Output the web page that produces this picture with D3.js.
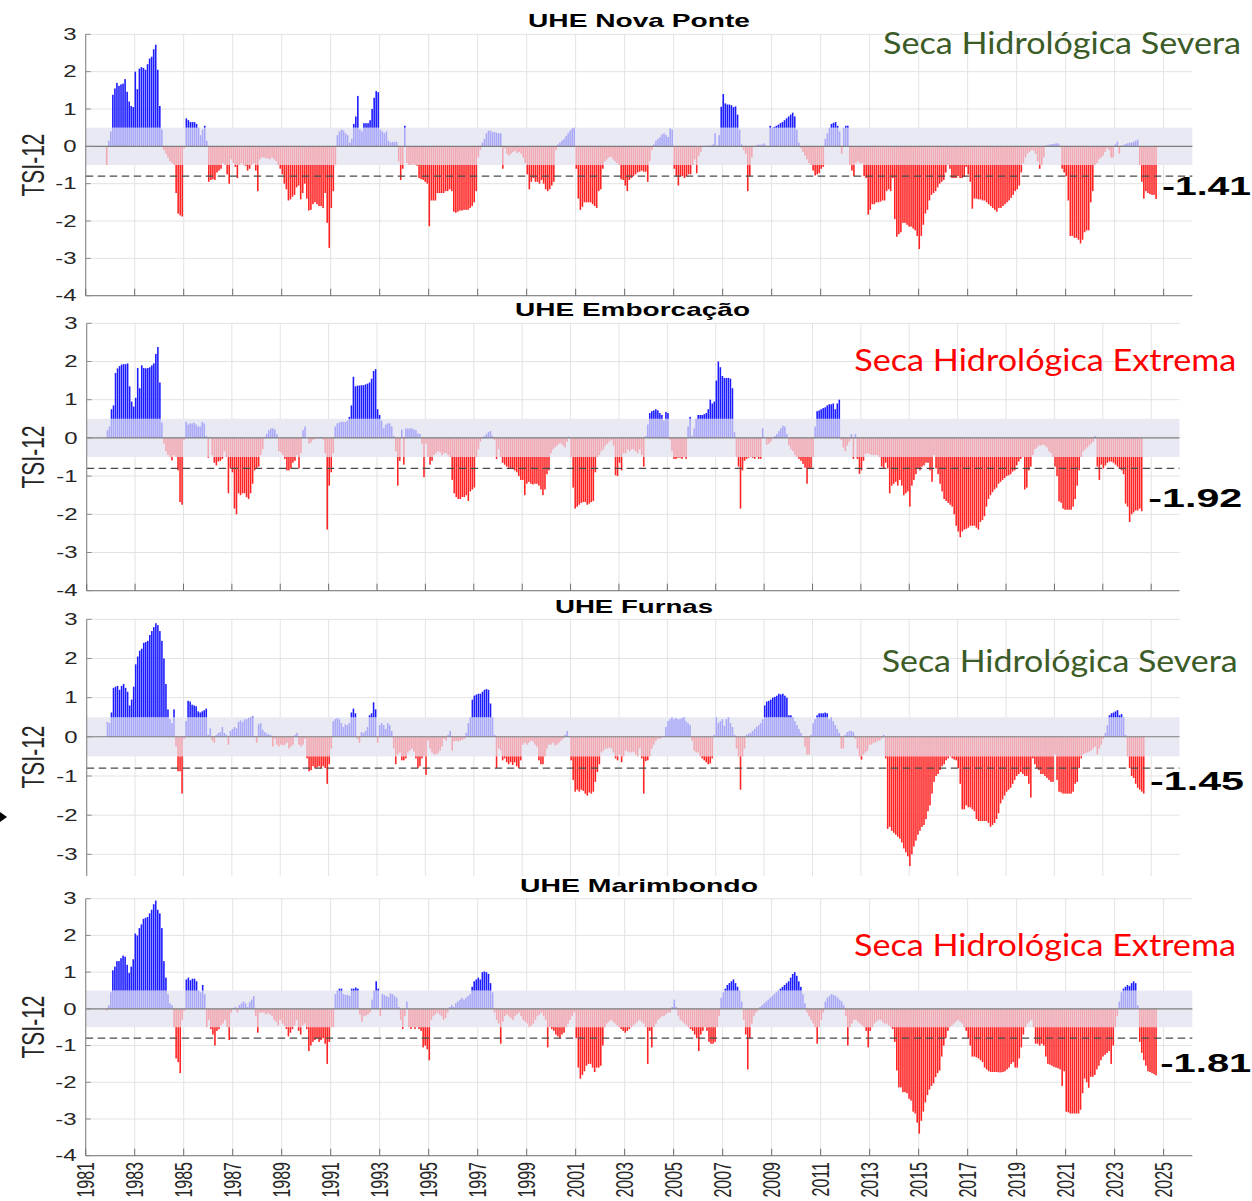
<!DOCTYPE html>
<html><head><meta charset="utf-8">
<script src="https://cdn.jsdelivr.net/npm/d3@7"></script>
<style>body{margin:0;background:#fff}svg{display:block}</style>
</head><body>
<svg id="chart" width="1252" height="1201"></svg>
<script>
// ---------------- DATA ----------------
// Monthly TSI-12 values, first value = November 1981
const firstYear = 1981, firstMonth = 11;
const novaPonte = [
-0.5,0.15,0.4,1.38,1.55,1.7,1.62,1.66,1.68,1.8,
1.46,1.2,1.08,1.05,2.0,1.53,2.08,2.12,2.1,2.05,
2.2,2.35,2.4,2.6,2.72,2.05,1.08,0.45,-0.1,-0.2,
-0.3,-0.4,-0.45,-0.5,-1.25,-1.8,-1.85,-1.88,-0.05,0.75,
0.7,0.65,0.65,0.65,0.6,0.5,0.3,0.45,0.55,0.15,
-0.95,-0.9,-0.88,-0.9,-0.7,-0.65,-0.6,-0.45,-0.5,-0.75,
-1.0,-0.35,-0.45,-0.55,-0.85,-0.5,-0.45,-0.5,-0.52,-0.65,
-0.6,-0.5,-0.45,-0.65,-1.2,-0.35,-0.3,-0.3,-0.32,-0.32,
-0.35,-0.3,-0.35,-0.4,-0.5,-0.6,-0.75,-1.0,-1.15,-1.45,
-1.42,-1.35,-1.3,-1.1,-1.05,-1.42,-1.25,-1.0,-1.4,-1.72,
-1.7,-1.55,-1.5,-1.55,-1.6,-1.6,-1.65,-1.25,-2.05,-2.72,
-1.65,-1.2,-0.5,0.3,0.4,0.45,0.42,0.35,0.3,0.1,
0.2,0.6,0.8,1.35,0.45,0.4,0.62,0.62,0.62,0.7,
1.0,1.3,1.48,1.45,0.45,0.4,0.35,0.4,0.15,0.1,
0.12,0.12,0.12,-0.4,-0.9,-0.6,0.55,-0.45,-0.5,-0.5,
-0.48,-0.5,-0.52,-0.85,-0.88,-0.9,-0.95,-1.0,-2.14,-1.45,
-1.45,-1.45,-1.25,-1.25,-1.25,-1.25,-1.2,-1.2,-1.15,-1.2,
-1.75,-1.78,-1.75,-1.72,-1.72,-1.7,-1.7,-1.7,-1.65,-1.6,
-1.5,-1.2,-0.3,-0.1,0.1,0.2,0.35,0.42,0.42,0.38,
0.38,0.36,0.35,0.35,-0.6,-0.05,-0.2,-0.25,-0.2,-0.15,
-0.12,-0.18,-0.15,-0.2,-0.3,-0.45,-0.75,-1.15,-0.95,-0.85,
-0.95,-0.95,-1.0,-0.9,-1.0,-1.15,-1.2,-1.15,-1.05,-0.95,
-0.1,0.05,0.1,0.15,0.2,0.28,0.35,0.42,0.48,0.5,
-0.6,-1.4,-1.7,-1.62,-1.5,-1.5,-1.5,-1.5,-1.55,-1.6,
-1.65,-1.2,-1.15,-0.6,-0.4,-0.35,-0.3,-0.28,-0.35,-0.4,
-0.45,-0.5,-0.88,-0.9,-1.05,-1.2,-0.9,-0.85,-0.8,-0.75,
-0.7,-0.68,-0.65,-0.68,-0.68,-0.95,-0.4,-0.1,0.05,0.15,
0.2,0.25,0.32,0.35,0.3,0.25,0.48,0.45,-0.6,-0.8,
-1.05,-0.8,-0.8,-0.85,-0.8,-0.75,-0.75,-0.5,-0.35,-0.72,
-0.25,-0.15,-0.02,0.01,0.01,0.02,0.02,0.05,0.35,0.02,
0.3,1.06,1.4,1.15,1.12,1.12,1.1,1.05,1.07,0.85,
0.45,0.05,-0.1,-0.2,-1.2,-0.8,-0.3,-0.02,0.02,0.05,
0.04,0.05,0.08,0.02,-0.02,0.55,0.5,0.52,0.55,0.58,
0.62,0.65,0.7,0.75,0.8,0.85,0.9,0.8,0.45,0.1,
-0.05,-0.15,-0.25,-0.35,-0.45,-0.5,-0.65,-0.78,-0.75,-0.72,
-0.6,-0.55,0.2,0.35,0.5,0.6,0.63,0.65,0.55,0.4,
-0.2,0.5,0.55,0.55,-0.5,-0.65,-0.8,-0.45,-0.4,-0.45,
-0.45,-0.8,-0.85,-1.83,-1.7,-1.55,-1.55,-1.5,-1.5,-1.48,
-1.45,-1.45,-1.2,-1.15,-1.2,-0.85,-1.95,-2.42,-2.35,-2.3,
-2.05,-2.05,-2.1,-2.15,-2.15,-2.2,-2.25,-2.4,-2.75,-2.4,
-2.1,-1.8,-1.7,-1.45,-1.3,-1.25,-1.2,-1.1,-1.0,-0.95,
-0.9,-0.7,-0.5,-0.6,-0.85,-0.85,-0.85,-0.8,-0.85,-0.85,
-0.82,-0.55,-0.75,-0.95,-1.67,-1.4,-1.4,-1.42,-1.42,-1.45,
-1.45,-1.5,-1.55,-1.6,-1.65,-1.7,-1.75,-1.65,-1.65,-1.6,
-1.55,-1.5,-1.45,-1.38,-1.3,-1.2,-1.15,-1.05,-0.7,-0.45,
-0.3,-0.2,-0.15,-0.1,-0.12,-0.2,-0.4,-0.6,-0.5,-0.3,
0.02,0.03,0.05,0.06,0.06,0.08,0.08,0.02,-0.6,-0.7,
-0.8,-1.45,-2.4,-2.4,-2.45,-2.45,-2.5,-2.6,-2.5,-2.3,
-2.25,-2.25,-1.5,-1.2,-0.5,-0.45,-0.35,-0.3,-0.25,-0.15,
-0.05,-0.1,-0.3,-0.3,0.05,0.12,-0.2,0.02,0.03,0.06,
0.08,0.1,0.1,0.12,0.15,0.18,-0.5,-0.95,-1.4,-1.2,
-1.25,-1.28,-1.3,-1.3,-1.41];
const emborcacao = [
0.2,0.3,0.75,0.85,1.7,1.82,1.88,1.92,1.93,1.93,
1.95,1.35,0.95,0.82,1.05,1.83,1.3,1.9,1.83,1.82,
1.83,1.85,1.9,1.95,2.2,2.38,1.45,0.4,-0.15,-0.35,
-0.45,-0.5,-0.59,-0.45,-0.5,-0.85,-1.68,-1.75,-0.05,0.42,
0.35,0.38,0.38,0.4,0.35,0.3,0.3,0.42,0.38,0.05,
-0.52,0.02,-0.45,-0.65,-0.72,-0.62,-0.6,-0.55,-0.35,-0.5,
-1.45,-0.8,-0.9,-1.85,-2.0,-1.45,-1.5,-1.45,-1.45,-1.55,
-1.6,-1.45,-1.2,-0.85,-0.8,-0.75,-0.45,-0.3,0.02,0.1,
0.2,0.25,0.25,0.22,0.1,-0.35,-0.38,-0.45,-0.55,-0.85,
-0.85,-0.8,-0.65,-0.6,-0.45,-0.8,-0.4,0.2,0.3,0.0,
-0.15,-0.12,-0.05,-0.02,-0.02,0.02,0.02,-0.05,-0.4,-2.4,
-1.25,-0.9,-0.4,0.3,0.38,0.4,0.42,0.42,0.42,0.45,
0.55,0.85,1.6,1.35,1.37,1.37,1.38,1.38,1.4,1.42,
1.45,1.55,1.75,1.8,0.75,0.6,0.45,0.25,0.35,0.38,
0.38,0.3,0.05,-0.35,-1.25,-0.6,0.22,-0.7,0.25,0.24,
0.25,0.25,0.22,0.2,0.12,0.1,-0.15,-1.03,-0.15,-0.5,
-0.7,-0.6,-0.45,-0.4,-0.35,-0.38,-0.45,-0.4,-0.4,-0.45,
-0.5,-1.1,-1.45,-1.55,-1.6,-1.6,-1.55,-1.55,-1.5,-1.65,
-1.4,-1.35,-1.3,-0.5,-0.3,-0.1,0.02,0.05,0.1,0.15,
0.18,0.05,-0.05,-0.55,-0.3,-0.5,-0.65,-0.7,-0.75,-0.78,
-0.8,-0.82,-0.85,-0.9,-1.0,-1.1,-1.1,-1.5,-1.2,-1.15,
-1.2,-1.22,-1.2,-1.2,-1.25,-1.35,-1.5,-1.35,-0.95,-0.85,
-0.4,-0.3,-0.25,-0.2,-0.15,-0.15,-0.2,-0.25,-0.1,0.03,
-0.5,-1.3,-1.85,-1.8,-1.75,-1.7,-1.68,-1.68,-1.75,-1.72,
-1.68,-1.65,-0.9,-0.5,-0.45,-0.35,-0.3,-0.2,-0.15,-0.1,
-0.05,-0.2,-0.98,-1.0,-0.65,-0.85,-0.4,-0.4,-0.3,-0.35,
-0.3,-0.3,-0.35,-0.4,-0.3,-0.45,-0.75,0.05,0.35,0.65,
0.7,0.72,0.75,0.72,0.65,0.6,0.45,0.68,0.65,-0.05,
-0.35,-0.55,-0.55,-0.52,-0.52,-0.55,-0.5,-0.55,0.3,0.55,
0.05,0.25,0.5,0.6,0.6,0.6,0.62,0.65,0.75,1.0,
0.9,0.95,1.5,2.0,1.85,1.62,1.57,1.57,1.57,1.55,
1.3,0.15,-0.5,-0.75,-1.85,-0.85,-0.6,-0.55,-0.52,-0.5,
-0.52,-0.55,-0.5,-0.55,-0.55,0.25,0.02,-0.18,-0.15,-0.1,
-0.02,0.05,0.1,0.18,0.25,0.32,0.3,0.1,-0.2,-0.3,
-0.35,-0.45,-0.5,-0.55,-0.6,-0.68,-0.78,-1.2,-0.8,-0.8,
-0.5,0.3,0.7,0.72,0.75,0.78,0.8,0.85,0.88,0.88,
0.9,0.75,0.9,1.0,-0.05,-0.25,-0.35,-0.2,-0.1,0.1,
-0.55,0.1,-0.55,-0.94,-0.85,-0.6,-0.42,-0.4,-0.42,-0.45,
-0.45,-0.45,-0.45,-0.5,-0.75,-0.8,-0.65,-0.8,-1.45,-1.25,
-1.2,-1.15,-1.25,-1.1,-1.25,-1.5,-1.45,-1.4,-1.8,-1.25,
-1.1,-0.95,-0.8,-0.85,-0.75,-0.72,-0.65,-0.65,-0.85,-1.15,
-0.45,-0.8,-0.95,-1.2,-1.4,-1.6,-1.65,-1.7,-1.75,-1.8,
-2.0,-2.3,-2.45,-2.6,-2.45,-2.4,-2.38,-2.35,-2.3,-2.3,
-2.3,-2.35,-2.4,-2.2,-2.15,-2.05,-1.8,-1.6,-1.5,-1.42,
-1.35,-1.3,-1.2,-1.15,-1.1,-1.05,-1.0,-0.98,-0.95,-0.88,
-0.85,-0.72,-0.62,-0.55,-0.5,-1.35,-1.3,-0.85,-0.75,-0.45,
-0.3,-0.25,-0.2,-0.2,-0.18,-0.2,-0.25,-0.35,-0.4,-0.5,
-0.75,-1.0,-1.66,-1.7,-1.85,-1.88,-1.88,-1.88,-1.88,-1.8,
-1.6,-1.25,-0.85,-0.5,-0.35,-0.3,-0.25,-0.2,-0.15,-0.1,
0.05,-0.75,-1.1,-0.7,-0.8,-0.72,-0.65,-0.62,-0.62,-0.65,
-0.7,-0.75,-0.8,-0.85,-0.95,-1.72,-1.8,-2.2,-2.0,-1.95,
-1.9,-1.9,-1.85,-1.92];
const furnas = [
0.38,0.35,0.62,1.25,1.28,1.3,1.2,1.3,1.35,1.25,
1.15,0.8,0.95,1.28,1.85,2.05,2.2,2.25,2.4,2.42,
2.45,2.6,2.7,2.8,2.9,2.85,2.7,2.45,2.0,1.35,
0.7,0.45,0.35,0.7,-0.25,-0.88,-0.88,-1.45,-0.05,0.4,
0.92,0.9,0.82,0.8,0.78,0.65,0.62,0.65,0.68,0.72,
0.05,0.22,-0.1,-0.15,0.05,0.1,0.12,0.25,0.1,0.05,
-0.2,0.15,0.2,0.25,0.22,0.38,0.42,0.38,0.45,0.45,
0.48,0.5,0.52,0.02,-0.15,0.32,0.35,0.18,0.12,0.08,
0.06,0.04,-0.25,-0.05,-0.2,-0.25,-0.2,-0.22,-0.2,-0.15,
-0.3,-0.25,-0.2,0.05,0.1,-0.2,-0.25,-0.2,-0.05,-0.55,
-0.88,-0.85,-0.75,-0.8,-0.78,-0.75,-0.8,-0.75,-0.8,-1.2,
-0.7,-0.3,0.4,0.45,0.48,0.45,0.35,0.25,0.32,0.3,
0.35,0.62,0.72,0.6,-0.05,-0.15,0.12,0.1,0.15,0.25,
0.55,0.6,0.88,0.7,-0.15,0.3,0.35,0.3,0.2,0.35,
0.3,0.15,-0.3,-0.7,-0.45,-0.4,-0.6,-0.6,-0.55,-0.4,
-0.35,-0.3,-0.38,-0.55,-0.8,-0.75,-0.55,-0.5,-0.97,-0.1,
-0.3,-0.4,-0.45,-0.45,-0.42,-0.35,-0.25,-0.05,-0.1,0.05,
0.15,-0.35,-0.12,-0.1,-0.12,-0.1,-0.08,-0.05,0.1,0.35,
0.5,0.95,1.05,1.08,1.1,1.1,1.15,1.2,1.22,1.2,
0.85,0.5,0.05,-0.8,-0.3,-0.35,-0.6,-0.55,-0.65,-0.7,
-0.65,-0.72,-0.65,-0.75,-0.8,-0.6,-0.2,-0.15,-0.2,-0.15,
-0.1,-0.12,-0.2,-0.25,-0.6,-0.7,-0.7,-0.5,-0.3,-0.2,
-0.2,-0.15,-0.22,-0.2,-0.15,-0.1,-0.05,0.05,0.15,0.02,
-0.6,-1.1,-1.4,-1.35,-1.4,-1.35,-1.38,-1.45,-1.5,-1.42,
-1.45,-1.4,-1.15,-0.9,-0.7,-0.4,-0.35,-0.3,-0.3,-0.28,
-0.3,-0.4,-0.55,-0.6,-0.45,-0.65,-0.5,-0.35,-0.38,-0.4,
-0.4,-0.38,-0.45,-0.5,-0.3,-0.55,-1.45,-0.62,-0.6,-0.5,
-0.3,-0.2,-0.1,-0.05,-0.05,-0.02,0.02,0.25,0.4,0.45,
0.5,0.45,0.48,0.45,0.45,0.48,0.5,0.4,0.35,0.3,
-0.1,-0.35,-0.4,-0.4,-0.5,-0.55,-0.6,-0.65,-0.7,-0.68,
-0.55,0.05,0.5,0.35,0.4,0.45,0.28,0.45,0.5,0.35,
0.25,0.05,-0.3,-0.5,-1.35,-0.5,-0.3,0.05,0.08,0.1,
0.15,0.2,0.25,0.3,0.35,0.45,0.8,0.9,0.92,0.95,
1.0,1.02,1.05,1.1,1.08,1.1,1.05,1.0,0.55,0.55,
0.5,0.4,0.3,0.2,0.1,0.02,-0.25,-0.45,-0.45,0.05,
0.35,0.45,0.55,0.6,0.6,0.6,0.62,0.6,0.45,0.5,
0.4,0.3,0.2,0.1,-0.3,-0.3,0.05,0.12,0.15,0.15,
0.12,-0.05,-0.3,-0.5,-0.58,-0.45,-0.4,-0.35,-0.2,-0.2,
-0.15,-0.15,-0.1,-0.1,-0.05,0.05,-0.55,-2.35,-2.3,-2.4,
-2.45,-2.5,-2.55,-2.6,-2.7,-2.85,-2.95,-3.05,-3.3,-3.0,
-2.8,-2.65,-2.5,-2.4,-2.3,-2.25,-2.1,-1.9,-1.75,-1.45,
-1.15,-1.0,-0.95,-0.85,-0.75,-0.7,-0.6,-0.55,-0.5,-0.55,
-0.58,-0.6,-0.8,-1.2,-1.85,-1.85,-1.75,-1.8,-1.8,-1.85,
-1.9,-2.1,-2.15,-2.15,-2.15,-2.15,-2.15,-2.2,-2.3,-2.25,
-2.2,-2.1,-1.95,-1.7,-1.6,-1.5,-1.4,-1.35,-1.3,-1.2,
-1.1,-1.0,-0.95,-0.9,-0.95,-1.0,-1.0,-1.2,-1.55,-0.55,
-0.7,-0.8,-0.85,-0.95,-0.95,-1.0,-1.05,-1.1,-1.15,-1.15,
-0.45,-1.1,-1.4,-1.42,-1.45,-1.45,-1.45,-1.45,-1.45,-1.4,
-1.2,-1.15,-0.8,-0.55,-0.45,-0.42,-0.4,-0.38,-0.35,-0.3,
-0.25,-0.45,-0.3,-0.2,-0.05,0.1,0.3,0.55,0.6,0.62,
0.65,0.68,0.55,0.58,0.5,0.05,-0.5,-0.8,-1.0,-1.05,
-1.2,-1.3,-1.35,-1.4,-1.45];
const marimbondo = [
-0.05,0.1,0.45,1.05,1.15,1.3,1.3,1.38,1.45,1.42,
1.2,0.98,1.15,1.35,2.05,2.0,2.2,2.3,2.45,2.48,
2.5,2.6,2.7,2.85,2.95,2.7,2.6,2.2,1.3,0.85,
0.4,0.15,0.1,-0.5,-1.35,-1.45,-1.75,-0.3,-0.05,0.8,
0.85,0.78,0.82,0.82,0.75,0.5,0.45,0.65,0.4,-0.5,
-0.3,-0.55,-0.7,-1.0,-0.6,-0.55,-0.45,-0.4,-0.3,-0.5,
-0.85,-0.1,0.02,0.05,-0.1,0.1,0.15,0.2,0.15,0.05,
0.18,0.25,0.35,-0.2,-0.65,-0.1,-0.1,-0.1,-0.15,-0.12,
-0.15,-0.2,-0.3,-0.35,-0.45,-0.3,-0.4,-0.45,-0.55,-0.75,
-0.65,-0.55,-0.45,-0.3,-0.6,-0.7,-0.45,-0.4,-0.55,-1.15,
-1.0,-0.9,-0.85,-0.8,-0.9,-0.85,-0.8,-0.95,-1.5,-0.9,
-0.5,-0.5,0.4,0.5,0.55,0.55,0.4,0.38,0.38,0.35,
0.55,0.55,0.58,0.55,-0.15,-0.35,-0.2,-0.18,-0.15,-0.1,
0.25,0.5,0.75,0.55,-0.2,0.4,0.38,0.35,0.32,0.42,
0.4,0.35,0.3,0.05,-0.3,-0.55,-0.2,0.2,-0.5,-0.55,
-0.5,-0.55,-0.5,-0.55,-0.6,-1.05,-1.0,-1.1,-1.4,-0.3,
-0.2,-0.15,-0.1,-0.15,-0.2,-0.3,-0.25,-0.1,0.05,0.1,
0.05,0.15,0.2,0.25,0.3,0.25,0.3,0.35,0.4,0.6,
0.75,0.8,0.85,0.8,1.0,1.02,1.0,0.95,0.7,0.45,
-0.1,-0.3,-0.4,-0.95,-0.35,-0.2,-0.15,-0.2,-0.25,-0.3,
-0.2,-0.15,-0.1,-0.2,-0.3,-0.35,-0.4,-0.5,-0.45,-0.4,
-0.3,-0.2,-0.15,-0.1,-0.2,-0.3,-1.05,-0.5,-0.55,-0.6,
-0.7,-0.75,-0.8,-0.7,-0.65,-0.5,-0.4,-0.3,-0.2,-0.1,
-0.8,-1.6,-1.9,-1.8,-1.7,-1.55,-1.5,-1.5,-1.6,-1.72,
-1.6,-1.6,-1.55,-1.0,-0.5,-0.4,-0.35,-0.3,-0.35,-0.4,
-0.45,-0.5,-0.55,-0.6,-0.65,-0.6,-0.55,-0.5,-0.45,-0.4,
-0.35,-0.3,-0.35,-0.4,-0.5,-1.5,-0.6,-1.05,-0.5,-0.4,
-0.3,-0.25,-0.2,-0.2,-0.15,-0.1,-0.1,0.05,0.25,0.05,
-0.2,-0.3,-0.35,-0.4,-0.45,-0.5,-0.55,-0.6,-0.7,-0.8,
-1.15,-0.7,-0.6,-0.5,-0.6,-0.9,-0.95,-0.95,-0.9,-0.5,
-0.2,0.3,0.45,0.55,0.65,0.7,0.75,0.8,0.7,0.6,
0.5,0.2,-0.3,-0.7,-1.65,-0.8,-0.4,-0.2,-0.1,-0.05,
0.05,0.1,0.15,0.2,0.25,0.3,0.35,0.4,0.45,0.5,
0.55,0.6,0.65,0.7,0.75,0.85,0.95,1.0,0.9,0.75,
0.6,0.4,0.15,-0.1,-0.2,-0.3,-0.4,-0.5,-0.95,-0.5,
-0.3,-0.1,0.2,0.3,0.35,0.4,0.38,0.35,0.3,0.25,
0.2,0.1,-0.2,-1.0,-0.5,-0.4,-0.3,-0.3,-0.35,-0.4,
-0.45,-0.5,-0.6,-1.05,-0.6,-0.5,-0.4,-0.35,-0.3,-0.3,
-0.35,-0.4,-0.4,-0.45,-0.5,-0.55,-0.9,-1.68,-2.14,-2.14,
-2.27,-2.27,-2.3,-2.45,-2.5,-2.8,-2.85,-3.1,-3.4,-3.05,
-2.8,-2.55,-2.35,-2.2,-2.1,-2.03,-1.86,-1.75,-1.68,-1.3,
-1.0,-0.8,-0.6,-0.5,-0.45,-0.4,-0.35,-0.3,-0.35,-0.4,
-0.5,-0.6,-0.8,-1.0,-1.3,-1.3,-1.32,-1.35,-1.4,-1.45,
-1.6,-1.65,-1.7,-1.72,-1.72,-1.72,-1.72,-1.73,-1.73,-1.72,
-1.7,-1.65,-1.6,-1.5,-1.45,-1.6,-1.6,-1.35,-1.05,-0.7,
-0.5,-0.4,-0.35,-0.3,-0.5,-0.95,-0.95,-1.0,-0.95,-1.0,
-1.3,-1.5,-1.52,-1.55,-1.58,-1.6,-1.62,-1.65,-2.1,-1.7,
-2.8,-2.82,-2.85,-2.85,-2.85,-2.85,-2.85,-2.75,-2.3,-1.9,
-2.0,-2.15,-1.85,-1.85,-1.8,-1.65,-1.55,-1.4,-1.3,-1.25,
-1.2,-1.15,-1.5,-1.0,-0.5,-0.2,0.2,0.45,0.55,0.6,
0.65,0.62,0.7,0.75,0.7,0.1,-0.9,-1.2,-1.4,-1.55,
-1.7,-1.72,-1.75,-1.78,-1.81];

const panelTitles = ["UHE Nova Ponte", "UHE Emborcação", "UHE Furnas", "UHE Marimbondo"];
const droughtLabels = ["Seca Hidrológica Severa", "Seca Hidrológica Extrema", "Seca Hidrológica Severa", "Seca Hidrológica Extrema"];
const lastValueLabels = ["-1.41", "-1.92", "-1.45", "-1.81"];
const yearTicks = d3.range(1981, 2026, 2);
const yTicks = [3, 2, 1, 0, -1, -2, -3, -4];
const bandLimit = 0.5;
const droughtThreshold = -0.8;
const yAxisLabel = "TSI-12";

// ---------------- LAYOUT ----------------
const layout = [
  {left: 85.7, right: 1192.3, yTop: 34.3, yBottom: 295.7, visibleBottom: 1201,
   title: {x: 639, y: 26.7, w: 222}, label: {x: 883, y: 54.3, w: 358, color: "#3b5b27"},
   value: {x: 1162, y: 195, w: 89}, tsiY: 165},
  {left: 86.7, right: 1179.5, yTop: 323.3, yBottom: 590.7, visibleBottom: 1201,
   title: {x: 632.5, y: 316, w: 235}, label: {x: 854.3, y: 371, w: 382, color: "#ff0000"},
   value: {x: 1148.3, y: 507.3, w: 94}, tsiY: 457},
  {left: 86.7, right: 1179.5, yTop: 619.3, yBottom: 893.5, visibleBottom: 876,
   title: {x: 634, y: 612.7, w: 158}, label: {x: 881.7, y: 671.7, w: 356, color: "#3b5b27"},
   value: {x: 1150, y: 790, w: 94}, tsiY: 757},
  {left: 85.7, right: 1192.3, yTop: 898.7, yBottom: 1155.7, visibleBottom: 1201,
   title: {x: 639, y: 891.5, w: 238}, label: {x: 854, y: 956, w: 382, color: "#ff0000"},
   value: {x: 1160.3, y: 1071.7, w: 91}, tsiY: 1027}
];
const C = {dPos: "#1c1cff", lPos: "#a9a9f8", dNeg: "#ff2424", lNeg: "#f2a9b2",
  band: "#e9e9f4", grid: "#e3e3e3", axis: "#8c8c8c", zero: "#7d7d7d", dash: "#4a4a4a", text: "#262626"};
const FONT = "'Liberation Sans', Arial, Helvetica, sans-serif";
const SX = 1.5; // horizontal stretch of the original figure

const svg = d3.select("#chart");
svg.append("rect").attr("width", 1252).attr("height", 1201).attr("fill", "#fff");
const series = [novaPonte, emborcacao, furnas, marimbondo];
const m0 = (firstYear - 1981) * 12 + (firstMonth - 1);

layout.forEach((L, i) => {
  if (i === 3) {
    // lower image overlaps bottom of panel 3
    svg.append("rect").attr("x", 0).attr("y", 876).attr("width", 1252).attr("height", 325).attr("fill", "#fff");
  }
  const g = svg.append("g");
  const x = d3.scaleLinear().domain([1981, 2026.17]).range([L.left, L.right]);
  const y = d3.scaleLinear().domain([-4, 3]).range([L.yBottom, L.yTop]);
  const mw = x(1981 + 1 / 12) - x(1981);
  const axisBottom = Math.min(y(-4), L.visibleBottom);
  const visTicks = yTicks.filter(d => y(d) < L.visibleBottom - 4);

  // grid
  g.selectAll(".vg").data(yearTicks.filter(t => t > 1981)).join("line")
    .attr("x1", d => x(d)).attr("x2", d => x(d)).attr("y1", y(3)).attr("y2", axisBottom)
    .attr("stroke", C.grid).attr("stroke-width", 1);
  g.selectAll(".hg").data(visTicks).join("line")
    .attr("x1", L.left).attr("x2", L.right).attr("y1", d => y(d)).attr("y2", d => y(d))
    .attr("stroke", C.grid).attr("stroke-width", 1);

  // band
  g.append("rect").attr("x", L.left).attr("width", L.right - L.left)
    .attr("y", y(bandLimit)).attr("height", y(-bandLimit) - y(bandLimit)).attr("fill", C.band);

  // bars
  const data = series[i].map((v, k) => ({t: 1981 + (m0 + k + 0.3) / 12, v}));
  const bw = mw * 0.78;
  g.selectAll(".lb").data(data).join("rect")
    .attr("x", d => x(d.t) - bw / 2).attr("width", bw)
    .attr("y", d => y(Math.max(0, Math.min(d.v, bandLimit))))
    .attr("height", d => Math.abs(y(0) - y(Math.max(-bandLimit, Math.min(d.v, bandLimit)))))
    .attr("fill", d => d.v >= 0 ? C.lPos : C.lNeg);
  g.selectAll(".db").data(data.filter(d => Math.abs(d.v) > bandLimit)).join("rect")
    .attr("x", d => x(d.t) - bw / 2).attr("width", bw)
    .attr("y", d => d.v > 0 ? y(d.v) : y(-bandLimit))
    .attr("height", d => d.v > 0 ? y(bandLimit) - y(d.v) : y(d.v) - y(-bandLimit))
    .attr("fill", d => d.v > 0 ? C.dPos : C.dNeg);

  // zero and threshold lines
  g.append("line").attr("x1", L.left).attr("x2", L.right).attr("y1", y(0)).attr("y2", y(0))
    .attr("stroke", C.zero).attr("stroke-width", 1.1);
  g.append("line").attr("x1", L.left).attr("x2", L.right).attr("y1", y(droughtThreshold)).attr("y2", y(droughtThreshold))
    .attr("stroke", C.dash).attr("stroke-width", 1.2).attr("stroke-dasharray", "7.5,4.5");

  // axes lines
  g.append("line").attr("x1", L.left).attr("x2", L.left).attr("y1", y(3)).attr("y2", axisBottom)
    .attr("stroke", C.axis).attr("stroke-width", 1.2);
  if (y(-4) < L.visibleBottom) {
    g.append("line").attr("x1", L.left).attr("x2", L.right).attr("y1", y(-4)).attr("y2", y(-4))
      .attr("stroke", C.axis).attr("stroke-width", 1.2);
    g.selectAll(".xt").data(yearTicks).join("line")
      .attr("x1", d => x(d)).attr("x2", d => x(d)).attr("y1", y(-4)).attr("y2", y(-4) - 7)
      .attr("stroke", "#6e6e6e").attr("stroke-width", 1);
  }
  g.selectAll(".yt").data(visTicks).join("line")
    .attr("x1", L.left).attr("x2", L.left + 5).attr("y1", d => y(d)).attr("y2", d => y(d))
    .attr("stroke", "#8c8c8c").attr("stroke-width", 1);

  // y tick labels
  g.selectAll(".yl").data(visTicks).join("text")
    .attr("transform", d => `translate(${L.left - 9},${y(d)}) scale(${SX},1)`)
    .attr("text-anchor", "end").attr("dy", "0.36em")
    .attr("font-family", FONT).attr("font-size", 16).attr("fill", C.text)
    .text(d => d);

  // y axis title
  g.append("text")
    .attr("transform", `translate(33,${L.tsiY}) scale(${SX},1) rotate(-90)`)
    .attr("text-anchor", "middle").attr("dy", "0.36em")
    .attr("font-family", FONT).attr("font-size", 21).attr("fill", C.text)
    .text(yAxisLabel);

  // x tick labels only for last panel
  if (i === 3) {
    g.selectAll(".xl").data(yearTicks).join("text")
      .attr("transform", d => `translate(${x(d)},1162) scale(${SX},1) rotate(-90)`)
      .attr("text-anchor", "end").attr("dy", "0.36em")
      .attr("font-family", FONT).attr("font-size", 16).attr("fill", C.text)
      .text(d => d);
  }

  // title
  g.append("text").attr("x", L.title.x - L.title.w / 2).attr("y", L.title.y)
    .attr("textLength", L.title.w).attr("lengthAdjust", "spacingAndGlyphs")
    .attr("font-family", FONT).attr("font-weight", "bold").attr("font-size", 19).attr("fill", "#000")
    .text(panelTitles[i]);

  // drought label
  g.append("text").attr("x", L.label.x).attr("y", L.label.y)
    .attr("textLength", L.label.w).attr("lengthAdjust", "spacingAndGlyphs")
    .attr("font-family", "Lato, 'Open Sans', sans-serif").attr("font-size", 31.5).attr("fill", L.label.color)
    .text(droughtLabels[i]);

  // last value label
  g.append("text").attr("x", L.value.x).attr("y", L.value.y)
    .attr("textLength", L.value.w).attr("lengthAdjust", "spacingAndGlyphs")
    .attr("font-family", FONT).attr("font-weight", "bold").attr("font-size", 25.5).attr("fill", "#000")
    .text(lastValueLabels[i]);
});

// small arrow marker at left edge
svg.append("path").attr("d", "M0,812 L7,817 L0,822 Z").attr("fill", "#000");
</script>
</body></html>
